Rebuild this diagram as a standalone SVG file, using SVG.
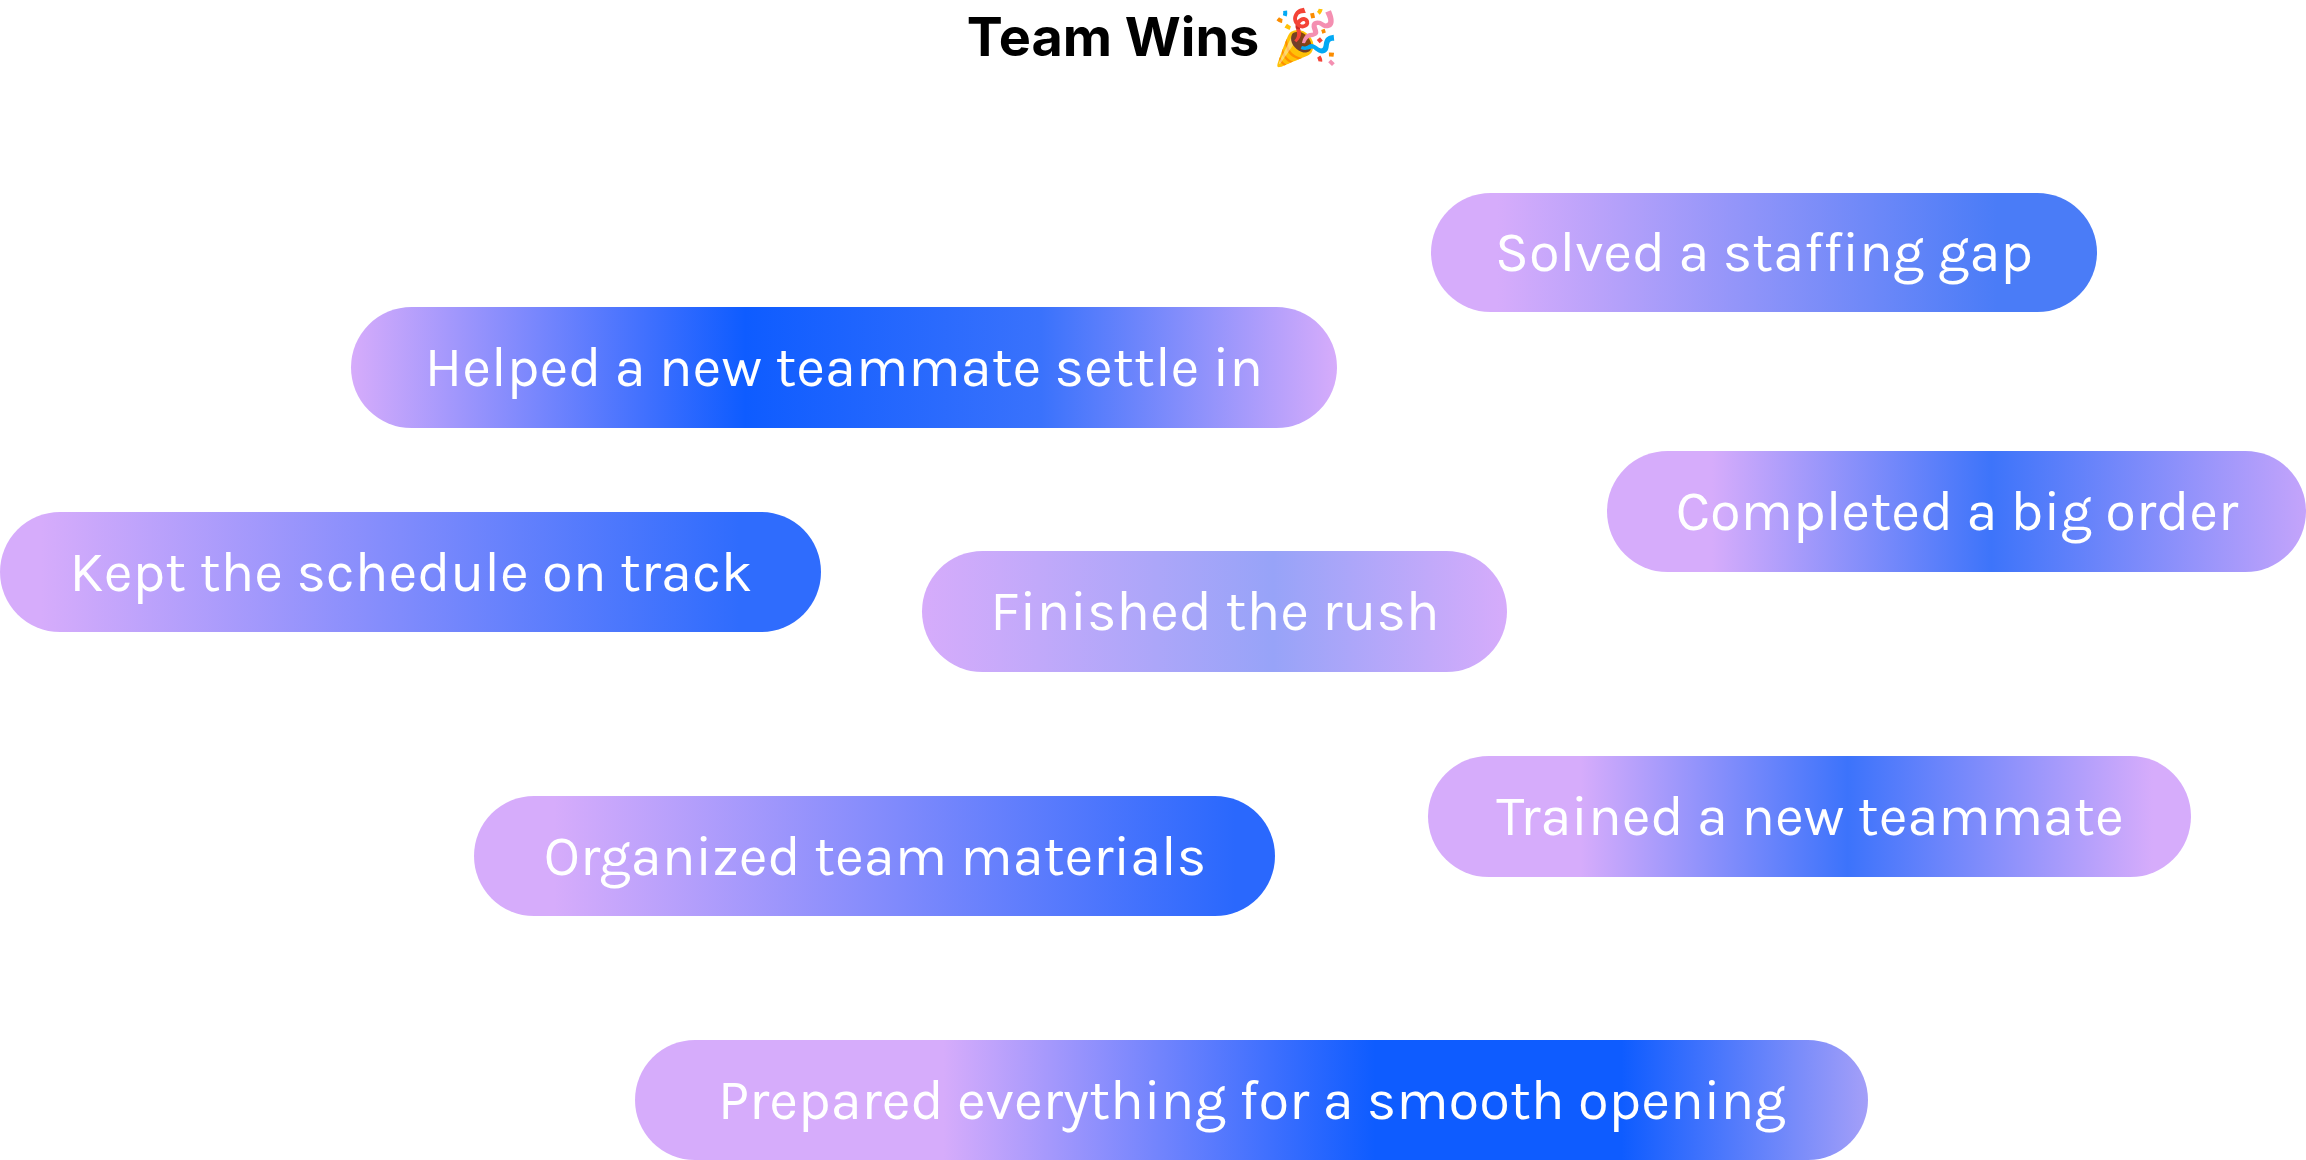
<svg xmlns="http://www.w3.org/2000/svg" width="2306" height="1160" viewBox="0 0 2306 1160">
<style>
.t{font-family:"Karla","Noto Sans","Liberation Sans",sans-serif;font-size:56px;fill:#fff;text-anchor:middle;dominant-baseline:central}
.h{font-family:"Inter","Noto Sans","Liberation Sans",sans-serif;font-size:54px;font-weight:700;fill:#000;text-anchor:middle}
</style>
<defs>
<linearGradient id="g1"><stop offset="0.1" stop-color="#d6acfb"/><stop offset="0.85" stop-color="#4a7cf7"/></linearGradient>
<linearGradient id="g2"><stop offset="0" stop-color="#d6acfb"/><stop offset="0.4" stop-color="#0e5cff"/><stop offset="0.7" stop-color="#3a72fc"/><stop offset="1" stop-color="#d6acfb"/></linearGradient>
<linearGradient id="g3"><stop offset="0.15" stop-color="#d6acfb"/><stop offset="0.55" stop-color="#3d74fa"/><stop offset="1" stop-color="#c4a4fb"/></linearGradient>
<linearGradient id="g4"><stop offset="0.05" stop-color="#d6acfb"/><stop offset="0.9" stop-color="#2f6cfd"/></linearGradient>
<linearGradient id="g5"><stop offset="0" stop-color="#d6acfb"/><stop offset="0.6" stop-color="#97a3f8"/><stop offset="1" stop-color="#d6acfb"/></linearGradient>
<linearGradient id="g6"><stop offset="0.1" stop-color="#d6acfb"/><stop offset="0.95" stop-color="#2a68fd"/></linearGradient>
<linearGradient id="g7"><stop offset="0.2" stop-color="#d6acfb"/><stop offset="0.55" stop-color="#3c73fb"/><stop offset="0.95" stop-color="#d6acfb"/></linearGradient>
<linearGradient id="g8"><stop offset="0.25" stop-color="#d6acfb"/><stop offset="0.6" stop-color="#0e5cff"/><stop offset="0.8" stop-color="#0e5cff"/><stop offset="1" stop-color="#a49ff8"/></linearGradient>
</defs>
<text class="h" x="1153" y="56">Team Wins 🎉</text>
<g id="n1"><rect x="1431" y="193" width="666" height="119" rx="59.5" fill="url(#g1)"/><text class="t" x="1764" y="252">Solved a staffing gap</text></g>
<g id="n2"><rect x="351" y="307" width="986" height="121" rx="60.5" fill="url(#g2)"/><text class="t" x="844" y="367">Helped a new teammate settle in</text></g>
<g id="n3"><rect x="1607" y="451" width="699" height="121" rx="60.5" fill="url(#g3)"/><text class="t" x="1957" y="511">Completed a big order</text></g>
<g id="n4"><rect x="0" y="512" width="821" height="120" rx="60" fill="url(#g4)"/><text class="t" x="411" y="572">Kept the schedule on track</text></g>
<g id="n5"><rect x="922" y="551" width="585" height="121" rx="60.5" fill="url(#g5)"/><text class="t" x="1215" y="611">Finished the rush</text></g>
<g id="n6"><rect x="474" y="796" width="801" height="120" rx="60" fill="url(#g6)"/><text class="t" x="875" y="856">Organized team materials</text></g>
<g id="n7"><rect x="1428" y="756" width="763" height="121" rx="60.5" fill="url(#g7)"/><text class="t" x="1810" y="816">Trained a new teammate</text></g>
<g id="n8"><rect x="635" y="1040" width="1233" height="120" rx="60" fill="url(#g8)"/><text class="t" x="1252" y="1100">Prepared everything for a smooth opening</text></g>
<g id="connectors"/>
</svg>
